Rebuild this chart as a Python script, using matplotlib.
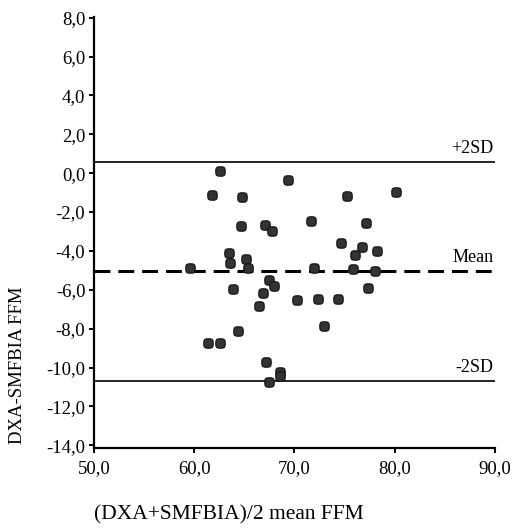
import numpy as np
import matplotlib
matplotlib.use("Agg")
import matplotlib.pyplot as plt
from matplotlib.path import Path

# ---- data ----
mean_ffm = [62.55, 61.72, 64.78, 69.35, 75.24, 80.10, 71.65, 77.14, 64.62, 67.05,
            67.78, 74.61, 76.77, 78.24, 76.00, 63.49, 63.55, 65.18, 59.56, 65.35,
            71.91, 75.81, 78.00, 67.48, 67.95, 63.89, 77.37, 66.88, 70.21, 72.38,
            74.38, 66.45, 72.94, 64.35, 61.39, 62.55, 67.15, 68.58, 68.58, 67.48]
diff_ffm = [0.09, -1.10, -1.23, -0.35, -1.17, -0.97, -2.47, -2.54, -2.71, -2.66,
            -2.98, -3.61, -3.78, -4.00, -4.21, -4.12, -4.63, -4.43, -4.86, -4.89,
            -4.89, -4.93, -5.05, -5.50, -5.82, -5.96, -5.91, -6.19, -6.53, -6.47,
            -6.47, -6.81, -7.88, -8.14, -8.73, -8.76, -9.71, -10.21, -10.45, -10.77]
mean_line = -5.05
upper_sd = 0.6
lower_sd = -10.7
line_labels = ["+2SD", "Mean", "-2SD"]
x_ticks = [50, 60, 70, 80, 90]
y_ticks = [8, 6, 4, 2, 0, -2, -4, -6, -8, -10, -12, -14]
x_label = "(DXA+SMFBIA)/2 mean FFM"
y_label = "DXA-SMFBIA FFM"

plt.rcParams['font.family'] = ['Liberation Serif', 'DejaVu Serif']

W, H = 513, 531
fig = plt.figure(figsize=(W / 100, H / 100), dpi=100)
ax = fig.add_axes([94.3 / W, 1 - 448 / H, (494.7 - 94.3) / W, (448 - 16.7) / H])

# rounded-square marker (superellipse)
t = np.linspace(0, 2 * np.pi, 60)
mx = np.sign(np.cos(t)) * np.abs(np.cos(t)) ** 0.6
my = np.sign(np.sin(t)) * np.abs(np.sin(t)) ** 0.6
rmarker = Path(np.column_stack([mx, my]))

ax.scatter(mean_ffm, diff_ffm, marker=rmarker, s=46, facecolor="#333333",
           edgecolor="#111111", linewidth=0.8, zorder=3)

ax.axhline(upper_sd, color="black", lw=1.2, zorder=2)
ax.axhline(lower_sd, color="black", lw=1.2, zorder=2)
ax.axhline(mean_line, color="black", lw=2.2, dashes=(5.2, 2.6), zorder=2)

for val, lab in zip([upper_sd, mean_line, lower_sd], line_labels):
    ax.text(89.9, val + 0.25, lab, ha="right", va="bottom", fontsize=13)

ax.set_xlim(50, 90)
ax.set_ylim(-14.14, 8.05)
ax.set_xticks(x_ticks)
ax.set_xticklabels([f"{v:.1f}".replace(".", ",") for v in x_ticks])
ax.set_yticks(y_ticks)
ax.set_yticklabels([f"{v:.1f}".replace(".", ",") for v in y_ticks])

for s in ["top", "right"]:
    ax.spines[s].set_visible(False)
for s in ["left", "bottom"]:
    ax.spines[s].set_linewidth(1.6)
ax.tick_params(axis="both", direction="out", length=3.5, width=1.4, labelsize=13.5)
ax.tick_params(axis="x", pad=5)
ax.tick_params(axis="y", pad=3)

fig.text(94 / W, 1 - 515 / H, x_label, ha="left", va="center", fontsize=15.5)
fig.text(18 / W, 1 - 365 / H, y_label, ha="center", va="center", rotation=90, fontsize=13.5)

fig.savefig("out.png", dpi=100)
